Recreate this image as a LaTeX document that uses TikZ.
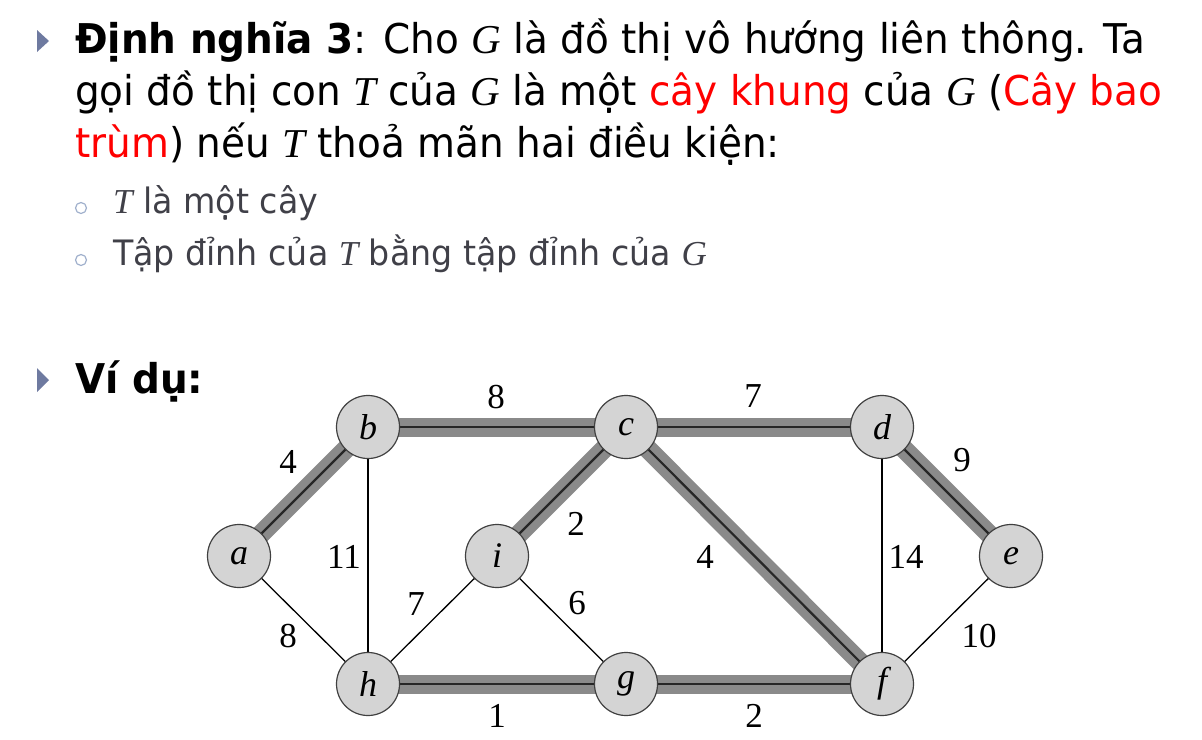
\documentclass[tikz,border=0pt]{standalone}
\usepackage{fontspec}
\setmainfont[FakeStretch=0.95]{DejaVu Sans}
\newfontfamily\mfont{Liberation Serif}
\newfontfamily\tnr{Liberation Serif}
\usetikzlibrary{backgrounds}
\definecolor{bulletblue}{RGB}{110,122,160}
\definecolor{ringblue}{RGB}{160,176,204}
\definecolor{subgray}{RGB}{64,64,72}
\definecolor{treegray}{RGB}{138,138,138}
\definecolor{nodegray}{RGB}{212,212,212}
\newcommand{\mv}[1]{{\mfont\itshape #1}}
\newcommand{\rd}[1]{\textcolor{red}{#1}}
\begin{document}
\begin{tikzpicture}[x=1pt,y=-1pt,
  vert/.style={circle,draw=black!75,fill=nodegray,line width=1.2pt,minimum size=63pt,inner sep=0pt,font=\tnr\itshape\fontsize{36}{36}\selectfont},
  treeband/.style={line width=19pt,draw=treegray},
  treecore/.style={line width=2.2pt,draw=black!85},
  plainedge/.style={line width=1.3pt,draw=black},
  wt/.style={font=\tnr\fontsize{35}{35}\selectfont,inner sep=0pt},
  mainline/.style={anchor=base west,inner sep=0pt,font=\fontsize{41}{46}\selectfont},
  subline/.style={anchor=base west,inner sep=0pt,font=\fontsize{35}{40}\selectfont,text=subgray},
  tri/.style={fill=bulletblue,draw=none},
  ring/.style={draw=ringblue,line width=1.2pt,fill=none,circle,inner sep=0pt,minimum size=11pt}
  ]
\useasboundingbox (0,0) rectangle (1202,739);
% bullets
\fill[tri] (37,30) -- (49,41) -- (37,52) -- cycle;
\fill[tri] (37,368) -- (49,380) -- (37,392) -- cycle;
\node[ring] (r1) at (81,208) {};
\node[ring] (r2) at (81,260) {};
% text
\node[mainline] (l1) at (75,53) {\textbf{Định nghĩa 3}: Cho \mv{G} là đồ thị vô hướng liên thông. Ta};
\node[mainline] (l2) at (75,105) {gọi đồ thị con \mv{T} của \mv{G} là một \rd{cây khung} của \mv{G} (\rd{Cây bao}};
\node[mainline] (l3) at (75,157) {\rd{trùm}) nếu \mv{T} thoả mãn hai điều kiện:};
\node[subline] (s1) at (113,213) {\mv{T} là một cây};
\node[subline] (s2) at (113,265) {Tập đỉnh của \mv{T} bằng tập đỉnh của \mv{G}};
\node[mainline] (vd) at (75,393) {\textbf{Ví dụ:}};
% vertices
\node[vert] (a) at (239,556) {a};
\node[vert] (b) at (368,427) {b};
\node[vert] (c) at (626,427) {c};
\node[vert] (d) at (882,427) {d};
\node[vert] (e) at (1011,556) {e};
\node[vert] (f) at (882,684) {f};
\node[vert] (g) at (626,684) {g};
\node[vert] (h) at (368,684) {h};
\node[vert] (i) at (497,556) {i};
\begin{pgfonlayer}{background}
\foreach \u/\v in {a/b,b/c,c/i,c/d,c/f,d/e,h/g,g/f}
  \draw[treeband] (\u.center) -- (\v.center);
\foreach \u/\v in {a/b,b/c,c/i,c/d,c/f,d/e,h/g,g/f}
  \draw[treecore] (\u.center) -- (\v.center);
\foreach \u/\v in {b/h,a/h,h/i,i/g,d/f,e/f}
  \draw[plainedge] (\u.center) -- (\v.center);
\end{pgfonlayer}
% weights
\node[wt] (w1) at (496,397) {8};
\node[wt] (w2) at (753,396) {7};
\node[wt] (w3) at (288,462) {4};
\node[wt] (w4) at (344,557) {11};
\node[wt] (w5) at (576,524) {2};
\node[wt] (w6) at (416,604) {7};
\node[wt] (w7) at (577,603) {6};
\node[wt] (w8) at (288,636) {8};
\node[wt] (w9) at (497,716) {1};
\node[wt] (w10) at (705,557) {4};
\node[wt] (w11) at (906,557) {14};
\node[wt] (w12) at (962,460) {9};
\node[wt] (w13) at (979,636) {10};
\node[wt] (w14) at (754,716) {2};
\end{tikzpicture}
\end{document}
